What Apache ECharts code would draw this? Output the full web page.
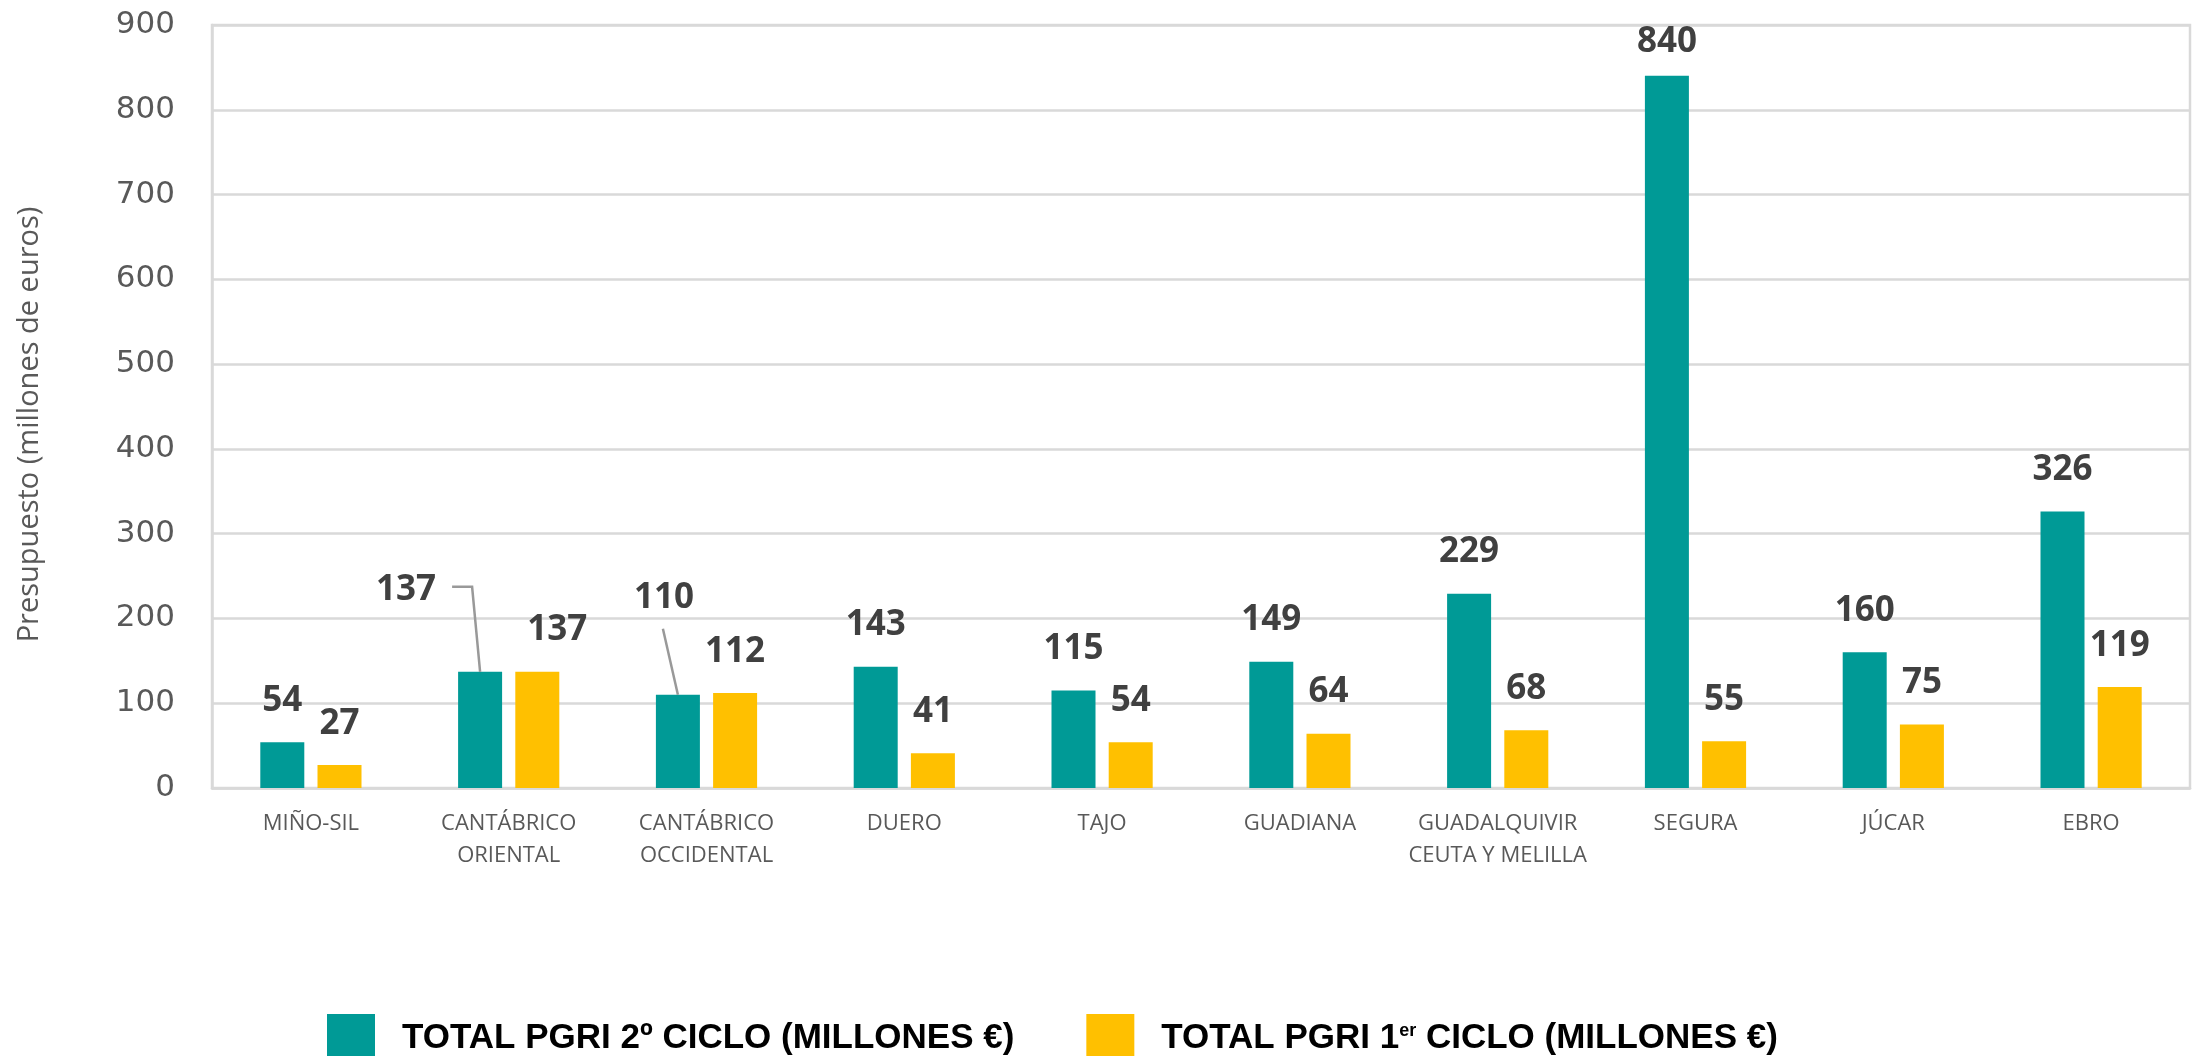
<!DOCTYPE html>
<html>
<head>
<meta charset="utf-8">
<script src="https://cdn.jsdelivr.net/npm/echarts@6/dist/echarts.min.js"></script>
<style>
html,body{margin:0;padding:0;background:#fff;}
#chart{width:2195px;height:1056px;}
</style>
</head>
<body>
<div id="chart"></div>
<script>
const categories = ['MIÑO-SIL', 'CANTÁBRICO\nORIENTAL', 'CANTÁBRICO\nOCCIDENTAL', 'DUERO', 'TAJO', 'GUADIANA', 'GUADALQUIVIR\nCEUTA Y MELILLA', 'SEGURA', 'JÚCAR', 'EBRO'];
const ciclo2 = [54, 137, 110, 143, 115, 149, 229, 840, 160, 326];
const ciclo1 = [27, 137, 112, 41, 54, 64, 68, 55, 75, 119];
const seriesNames = ['TOTAL PGRI 2º CICLO (MILLONES €)', 'TOTAL PGRI 1er CICLO (MILLONES €)'];
const yTicks = [0, 100, 200, 300, 400, 500, 600, 700, 800, 900];
// categories whose 2º ciclo label is pulled aside with a leader line
const leaderIdx = [1, 2];

const chart = echarts.init(document.getElementById('chart'), null, {renderer: 'canvas'});

const BAR_W = 44;
const BAR_GAP = 0.3;
const tealOffset = -(BAR_W + BAR_W * BAR_GAP) / 2;

const labelStyle = {
  show: true,
  position: 'top',
  distance: 24,
  fontFamily: 'Open Sans',
  fontWeight: 'bold',
  fontSize: 35,
  color: '#404040'
};

// label displacements for the moved labels
const moved2 = {1: [-74, -40], 2: [-14, -55]};
const moved1 = {1: [20, 0]};
// leader line shapes, relative to the top centre of the bar
const leaderShapes = {
  1: [[-28, -85], [-8, -85], [0, 0]],
  2: [[-15, -66], [0, 0]]
};

const data2 = ciclo2.map((v, i) => {
  const o = {value: v};
  if (i === 7) o.label = {distance: 16};
  return o;
});
const data1 = ciclo1.map(v => ({value: v}));
const leaderData = leaderIdx.map(i => [i, ciclo2[i]]);

chart.setOption({
  animation: false,
  backgroundColor: '#ffffff',
  grid: {
    left: 212, right: 5, top: 25, bottom: 268,
    show: true, borderColor: '#d9d9d9', borderWidth: 2.5, backgroundColor: 'transparent'
  },
  legend: {
    left: 322,
    top: 1009,
    itemWidth: 48,
    itemHeight: 48,
    itemGap: 72,
    icon: 'rect',
    data: seriesNames,
    formatter: function (name) {
      if (name.indexOf('1er') >= 0) {
        return 'TOTAL PGRI 1{sup|er} CICLO (MILLONES €)';
      }
      return name;
    },
    textStyle: {
      fontFamily: "'Liberation Sans Narrow', 'Arial Narrow', 'Liberation Sans'",
      fontWeight: 'bold',
      fontSize: 35,
      color: '#000000',
      padding: [0, 0, 0, 22],
      rich: {
        sup: {
          fontFamily: "'Liberation Sans Narrow', 'Arial Narrow', 'Liberation Sans'",
          fontWeight: 'bold',
          fontSize: 18,
          color: '#000000',
          padding: [0, 0, 14, 0]
        }
      }
    }
  },
  xAxis: {
    type: 'category',
    data: categories,
    axisLine: {show: true, lineStyle: {color: '#d9d9d9', width: 2.5}},
    axisTick: {show: false},
    axisLabel: {
      fontFamily: 'Open Sans',
      fontSize: 22,
      color: '#595959',
      lineHeight: 32,
      margin: 20,
      interval: 0
    }
  },
  yAxis: {
    type: 'value',
    min: yTicks[0],
    max: yTicks[yTicks.length - 1],
    interval: 100,
    name: 'Presupuesto (millones de euros)',
    nameLocation: 'middle',
    nameGap: 168,
    nameTextStyle: {fontFamily: 'Open Sans', fontSize: 29, color: '#595959', padding: [0, 36, 0, 0]},
    axisLine: {show: true, lineStyle: {color: '#d9d9d9', width: 2.5}},
    axisTick: {show: false},
    axisLabel: {fontFamily: 'DejaVu Sans', fontSize: 31, color: '#595959', margin: 37},
    splitLine: {lineStyle: {color: '#d9d9d9', width: 2.5}}
  },
  series: [
    {
      name: seriesNames[0],
      type: 'bar',
      data: data2,
      barWidth: BAR_W,
      barGap: (BAR_GAP * 100) + '%',
      itemStyle: {color: '#009A96'},
      label: labelStyle,
      labelLayout: function (p) {
        const m = moved2[p.dataIndex];
        return m ? {dx: m[0], dy: m[1]} : {};
      }
    },
    {
      name: seriesNames[1],
      type: 'bar',
      data: data1,
      barWidth: BAR_W,
      barGap: (BAR_GAP * 100) + '%',
      itemStyle: {color: '#FFC000'},
      label: labelStyle,
      labelLayout: function (p) {
        const m = moved1[p.dataIndex];
        return m ? {dx: m[0], dy: m[1]} : {};
      }
    },
    {
      name: 'leader',
      type: 'custom',
      data: leaderData,
      encode: {x: 0, y: 1},
      silent: true,
      z: 5,
      renderItem: function (params, api) {
        const idx = api.value(0);
        const p = api.coord([idx, api.value(1)]);
        const x0 = p[0] + tealOffset;
        const y0 = p[1];
        const shape = leaderShapes[idx];
        return {
          type: 'polyline',
          shape: {points: shape.map(s => [x0 + s[0], y0 + s[1]])},
          style: {stroke: '#999999', lineWidth: 2.5, fill: null}
        };
      }
    }
  ]
});
</script>
</body>
</html>
